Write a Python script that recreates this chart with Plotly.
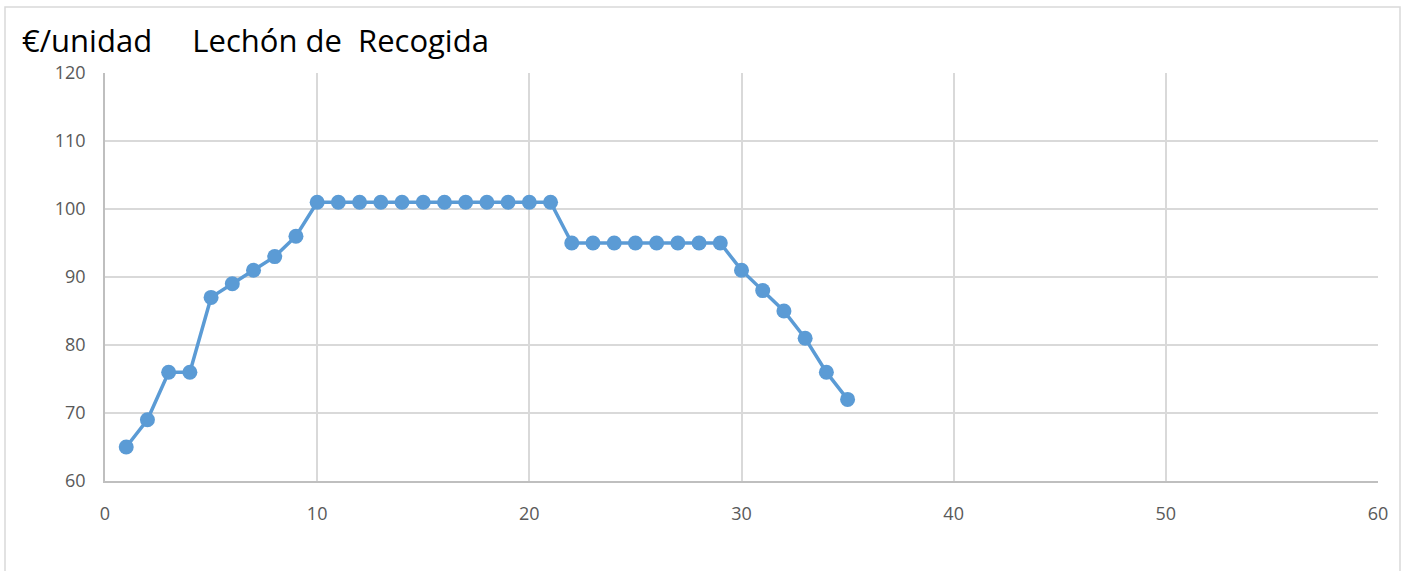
import plotly.graph_objects as go

semana = list(range(1, 36))
precio = [65, 69, 76, 76, 87, 89, 91, 93, 96,
          101, 101, 101, 101, 101, 101, 101, 101, 101, 101, 101, 101,
          95, 95, 95, 95, 95, 95, 95, 95,
          91, 88, 85, 81, 76, 72]

title_text = "€/unidad     Lechón de  Recogida"

fig = go.Figure()
fig.add_trace(go.Scatter(
    x=semana, y=precio, mode="lines+markers",
    line=dict(color="#5b9bd5", width=3.5),
    marker=dict(color="#5b9bd5", size=15),
    showlegend=False,
))

W, H = 1406, 571
L, R, T, B = 105, 28, 73, 90
pw, ph = W - L - R, H - T - B

def px2x(px):
    return (px - L) / pw

def py2y(py):
    return (H - B - py) / ph

fig.update_layout(
    width=W, height=H,
    margin=dict(l=L, r=R, t=T, b=B),
    paper_bgcolor="white", plot_bgcolor="white",
    font=dict(family="Open Sans, Noto Sans, sans-serif", color="#595959", size=18),
    annotations=[dict(
        text=title_text, xref="paper", yref="paper",
        x=px2x(20), y=py2y(40), xanchor="left", yanchor="middle",
        showarrow=False, font=dict(size=31, color="#000000"),
    )],
    shapes=[dict(
        type="rect", xref="paper", yref="paper",
        x0=px2x(5), x1=px2x(1400), y0=py2y(590), y1=py2y(7),
        line=dict(color="#d9d9d9", width=1.5), fillcolor="rgba(0,0,0,0)",
        layer="below",
    )],
)
fig.update_xaxes(
    range=[0, 60], dtick=10, tick0=0, showgrid=True, gridcolor="#d9d9d9", gridwidth=1.5,
    showline=True, linecolor="#bfbfbf", linewidth=1.5, mirror=False,
    zeroline=False, ticks="", ticklabelstandoff=16,
    tickfont=dict(size=18, color="#595959"),
)
fig.update_yaxes(
    range=[60, 120], dtick=10, tick0=60, showgrid=True, gridcolor="#d9d9d9", gridwidth=1.5,
    showline=True, linecolor="#bfbfbf", linewidth=1.5, mirror=False,
    zeroline=False, ticks="", ticklabelstandoff=14,
    tickfont=dict(size=18, color="#595959"),
)
fig.write_html("out.html", config={"displayModeBar": False},
               post_script="document.body.style.margin='0';")
